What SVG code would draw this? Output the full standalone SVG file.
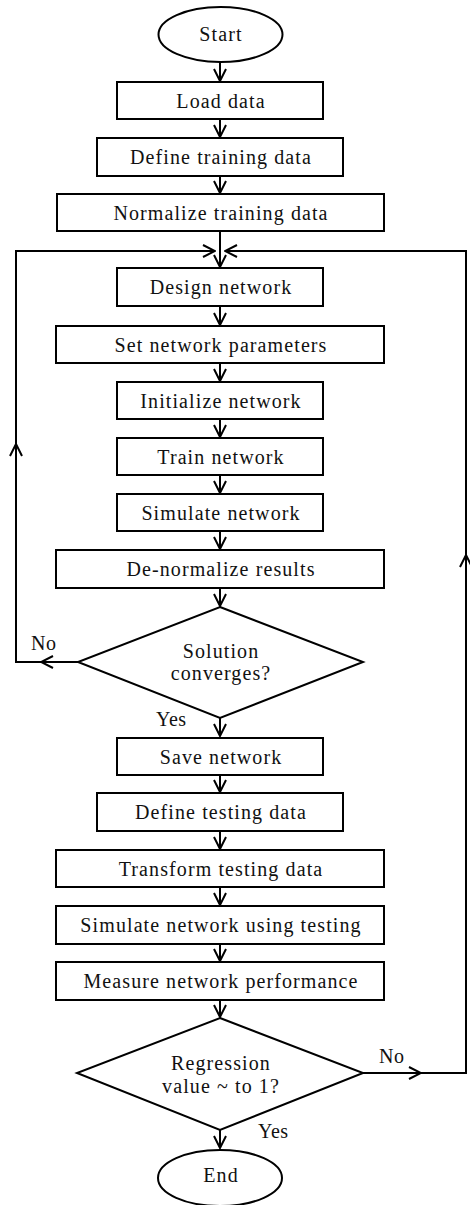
<svg xmlns="http://www.w3.org/2000/svg" width="470" height="1205" viewBox="0 0 470 1205">
<style>
.box{fill:#fff;stroke:#000;stroke-width:2}
.t{font-family:"Liberation Serif","Times New Roman",serif;font-size:20px;letter-spacing:1.1px;fill:#111;text-anchor:middle}
.lbl{font-family:"Liberation Serif","Times New Roman",serif;font-size:20px;letter-spacing:0.5px;fill:#111}
.c{fill:none;stroke:#000;stroke-width:2;marker-end:url(#arr)}
</style>
<defs>
<marker id="arr" viewBox="0 0 14 14" refX="13" refY="7" markerWidth="14" markerHeight="14" markerUnits="userSpaceOnUse" orient="auto">
<path d="M1,1 L13,7 L1,13" fill="none" stroke="#000" stroke-width="2"/>
</marker>
</defs>
<rect width="470" height="1205" fill="#fff"/>
<g id="connectors">
<line class="c" x1="220" y1="62" x2="220" y2="81"/>
<line class="c" x1="220" y1="119" x2="220" y2="137"/>
<line class="c" x1="220" y1="176" x2="220" y2="193"/>
<line class="c" x1="220" y1="231" x2="220" y2="267"/>
<line class="c" x1="220" y1="306" x2="220" y2="325"/>
<line class="c" x1="220" y1="363" x2="220" y2="381"/>
<line class="c" x1="220" y1="419" x2="220" y2="437"/>
<line class="c" x1="220" y1="475" x2="220" y2="493"/>
<line class="c" x1="220" y1="531" x2="220" y2="549"/>
<line class="c" x1="220" y1="588" x2="220" y2="606"/>
<line class="c" x1="220" y1="718" x2="220" y2="736"/>
<line class="c" x1="220" y1="775" x2="220" y2="792"/>
<line class="c" x1="220" y1="831" x2="220" y2="849"/>
<line class="c" x1="220" y1="887" x2="220" y2="905"/>
<line class="c" x1="220" y1="944" x2="220" y2="961"/>
<line class="c" x1="220" y1="1000" x2="220" y2="1017"/>
<line class="c" x1="220" y1="1130" x2="220" y2="1148"/>
<polyline class="c" points="78,662 41,662"/>
<polyline class="c" points="41,662 16,662 16,444"/>
<polyline class="c" points="16,444 16,251 215,251"/>
<polyline class="c" points="363,1073 421,1073"/>
<polyline class="c" points="421,1073 466,1073 466,555"/>
<polyline class="c" points="466,555 466,251 225,251"/>
</g>
<g id="start"><ellipse class="box" cx="220.5" cy="34.5" rx="62" ry="27.5"/><text class="t" x="221" y="41">Start</text></g>
<g id="load"><rect class="box" x="117" y="82" width="206" height="37"/><text class="t" x="221" y="108">Load data</text></g>
<g id="definetrain"><rect class="box" x="97" y="138" width="246" height="38"/><text class="t" x="221" y="164">Define training data</text></g>
<g id="normalize"><rect class="box" x="57" y="194" width="327" height="37"/><text class="t" x="221" y="220">Normalize training data</text></g>
<g id="design"><rect class="box" x="117" y="268" width="206" height="38"/><text class="t" x="221" y="294">Design network</text></g>
<g id="setparams"><rect class="box" x="56" y="326" width="328" height="37"/><text class="t" x="221" y="352">Set network parameters</text></g>
<g id="init"><rect class="box" x="117" y="382" width="206" height="37"/><text class="t" x="221" y="408">Initialize network</text></g>
<g id="train"><rect class="box" x="117" y="438" width="206" height="37"/><text class="t" x="221" y="464">Train network</text></g>
<g id="simulate"><rect class="box" x="117" y="494" width="206" height="37"/><text class="t" x="221" y="520">Simulate network</text></g>
<g id="denorm"><rect class="box" x="56" y="550" width="328" height="38"/><text class="t" x="221" y="576">De-normalize results</text></g>
<g id="converge"><polygon class="box" points="220,607 363,662 220,718 78,662"/><text class="t" x="221" y="658">Solution</text><text class="t" x="221" y="680">converges?</text></g>
<g id="save"><rect class="box" x="117" y="738" width="206" height="37"/><text class="t" x="221" y="764">Save network</text></g>
<g id="definetest"><rect class="box" x="97" y="793" width="246" height="38"/><text class="t" x="221" y="819">Define testing data</text></g>
<g id="transform"><rect class="box" x="56" y="850" width="328" height="37"/><text class="t" x="221" y="876">Transform testing data</text></g>
<g id="simtest"><rect class="box" x="56" y="906" width="328" height="38"/><text class="t" x="221" y="932">Simulate network using testing</text></g>
<g id="measure"><rect class="box" x="56" y="962" width="328" height="38"/><text class="t" x="221" y="988">Measure network performance</text></g>
<g id="regression"><polygon class="box" points="220,1018 363,1073 220,1130 77,1073"/><text class="t" x="221" y="1070">Regression</text><text class="t" x="221" y="1093">value ~ to 1?</text></g>
<g id="end"><ellipse class="box" cx="220" cy="1178" rx="62" ry="28"/><text class="t" x="221" y="1182">End</text></g>
<g id="labels">
<text class="lbl" x="31" y="650">No</text>
<text class="lbl" x="156" y="726">Yes</text>
<text class="lbl" x="379" y="1063">No</text>
<text class="lbl" x="258" y="1138">Yes</text>
</g>
</svg>
